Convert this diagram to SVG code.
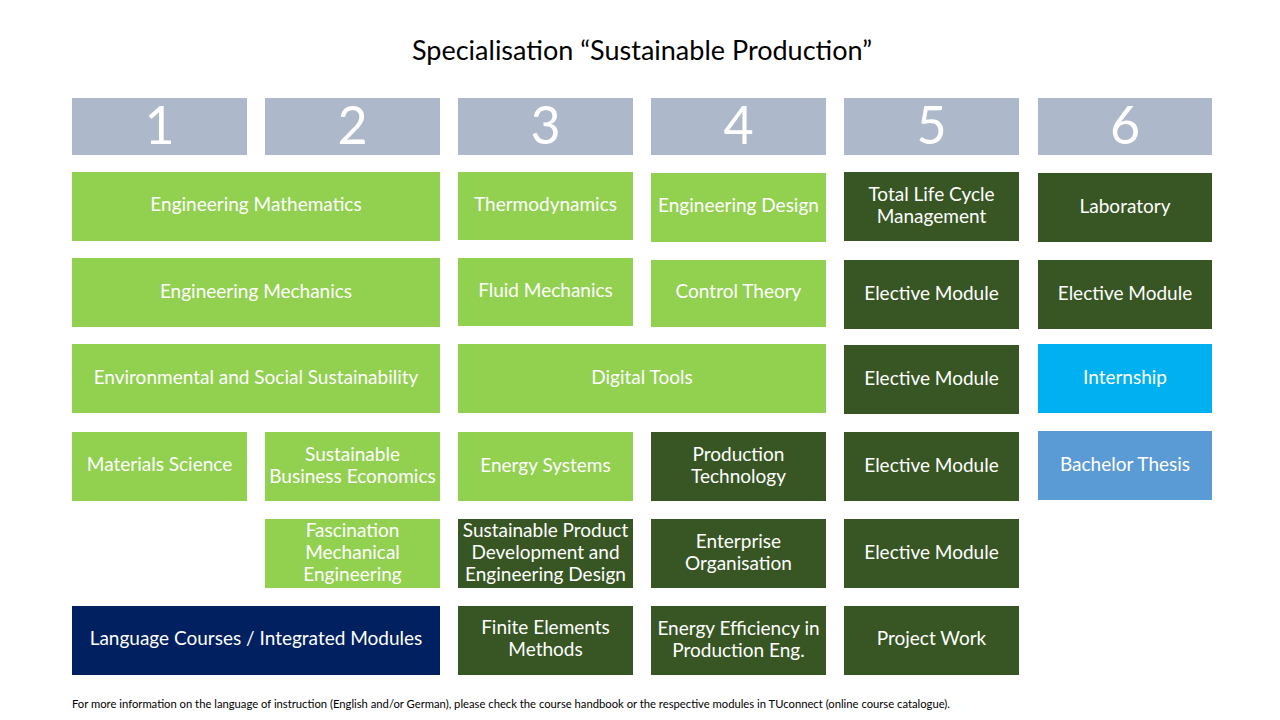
<svg xmlns="http://www.w3.org/2000/svg" width="1280" height="720" viewBox="0 0 1280 720">
<style>
text{font-family:Lato,"Liberation Sans",sans-serif;fill:#fff;text-anchor:middle}
.t{font-size:19px}
.h{font-size:52px}
.hd{fill:#ADB9CA}.lg{fill:#92D050}.dg{fill:#375623}.nv{fill:#002060}.cy{fill:#00B0F0}.bl{fill:#5B9BD5}
.title{font-size:27px;fill:#000}
.foot{font-size:11px;fill:#000;text-anchor:start}
</style>
<rect width="1280" height="720" fill="#fff"/>
<text class="title" x="642" y="60">Specialisation “Sustainable Production”</text>
<g id="headers">
<g id="h1"><rect class="hd" x="72" y="98" width="175" height="57"/><text class="h" x="159.5" y="144">1</text></g>
<g id="h2"><rect class="hd" x="265" y="98" width="175" height="57"/><text class="h" x="352.5" y="144">2</text></g>
<g id="h3"><rect class="hd" x="458" y="98" width="175" height="57"/><text class="h" x="545.5" y="144">3</text></g>
<g id="h4"><rect class="hd" x="651" y="98" width="175" height="57"/><text class="h" x="738.5" y="144">4</text></g>
<g id="h5"><rect class="hd" x="844" y="98" width="175" height="57"/><text class="h" x="931.5" y="144">5</text></g>
<g id="h6"><rect class="hd" x="1038" y="98" width="174" height="57"/><text class="h" x="1125" y="144">6</text></g>
</g>
<g id="connectors"/>
<g id="n-engmath"><rect class="lg" x="72" y="172" width="368" height="69"/><text class="t" x="256" y="211">Engineering Mathematics</text></g>
<g id="n-thermo"><rect class="lg" x="458" y="172" width="175" height="68"/><text class="t" x="545.5" y="211">Thermodynamics</text></g>
<g id="n-engdesign"><rect class="lg" x="651" y="173" width="175" height="69"/><text class="t" x="738.5" y="212">Engineering Design</text></g>
<g id="n-tlcm"><rect class="dg" x="844" y="172" width="175" height="69"/><text class="t" x="931.5" y="201">Total Life Cycle</text><text class="t" x="931.5" y="223">Management</text></g>
<g id="n-lab"><rect class="dg" x="1038" y="173" width="174" height="69"/><text class="t" x="1125" y="213">Laboratory</text></g>

<g id="n-engmech"><rect class="lg" x="72" y="258" width="368" height="69"/><text class="t" x="256" y="298">Engineering Mechanics</text></g>
<g id="n-fluid"><rect class="lg" x="458" y="258" width="175" height="68"/><text class="t" x="545.5" y="297">Fluid Mechanics</text></g>
<g id="n-control"><rect class="lg" x="651" y="260" width="175" height="67"/><text class="t" x="738.5" y="298">Control Theory</text></g>
<g id="n-el5a"><rect class="dg" x="844" y="260" width="175" height="69"/><text class="t" x="931.5" y="300">Elective Module</text></g>
<g id="n-el6"><rect class="dg" x="1038" y="260" width="174" height="69"/><text class="t" x="1125" y="300">Elective Module</text></g>

<g id="n-env"><rect class="lg" x="72" y="344" width="368" height="69"/><text class="t" x="256" y="384">Environmental and Social Sustainability</text></g>
<g id="n-digital"><rect class="lg" x="458" y="344" width="368" height="69"/><text class="t" x="642" y="384">Digital Tools</text></g>
<g id="n-el5b"><rect class="dg" x="844" y="345" width="175" height="69"/><text class="t" x="931.5" y="385">Elective Module</text></g>
<g id="n-intern"><rect class="cy" x="1038" y="344" width="174" height="69"/><text class="t" x="1125" y="384">Internship</text></g>

<g id="n-materials"><rect class="lg" x="72" y="432" width="175" height="69"/><text class="t" x="159.5" y="471">Materials Science</text></g>
<g id="n-sbe"><rect class="lg" x="265" y="432" width="175" height="69"/><text class="t" x="352.5" y="461">Sustainable</text><text class="t" x="352.5" y="483">Business Economics</text></g>
<g id="n-energy"><rect class="lg" x="458" y="432" width="175" height="69"/><text class="t" x="545.5" y="472">Energy Systems</text></g>
<g id="n-prodtech"><rect class="dg" x="651" y="432" width="175" height="69"/><text class="t" x="738.5" y="461">Production</text><text class="t" x="738.5" y="483">Technology</text></g>
<g id="n-el5c"><rect class="dg" x="844" y="432" width="175" height="69"/><text class="t" x="931.5" y="472">Elective Module</text></g>
<g id="n-thesis"><rect class="bl" x="1038" y="431" width="174" height="69"/><text class="t" x="1125" y="471">Bachelor Thesis</text></g>

<g id="n-fascination"><rect class="lg" x="265" y="519" width="175" height="69"/><text class="t" x="352.5" y="537">Fascination</text><text class="t" x="352.5" y="559">Mechanical</text><text class="t" x="352.5" y="581">Engineering</text></g>
<g id="n-spd"><rect class="dg" x="458" y="519" width="175" height="69"/><text class="t" x="545.5" y="537">Sustainable Product</text><text class="t" x="545.5" y="559">Development and</text><text class="t" x="545.5" y="581">Engineering Design</text></g>
<g id="n-enterprise"><rect class="dg" x="651" y="519" width="175" height="69"/><text class="t" x="738.5" y="548">Enterprise</text><text class="t" x="738.5" y="570">Organisation</text></g>
<g id="n-el5d"><rect class="dg" x="844" y="519" width="175" height="69"/><text class="t" x="931.5" y="559">Elective Module</text></g>

<g id="n-lang"><rect class="nv" x="72" y="606" width="368" height="69"/><text class="t" x="256" y="645">Language Courses / Integrated Modules</text></g>
<g id="n-fem"><rect class="dg" x="458" y="606" width="175" height="69"/><text class="t" x="545.5" y="634">Finite Elements</text><text class="t" x="545.5" y="656">Methods</text></g>
<g id="n-eff"><rect class="dg" x="651" y="606" width="175" height="69"/><text class="t" x="738.5" y="635">Energy Efficiency in</text><text class="t" x="738.5" y="657">Production Eng.</text></g>
<g id="n-project"><rect class="dg" x="844" y="606" width="175" height="69"/><text class="t" x="931.5" y="645">Project Work</text></g>

<text class="foot" x="72" y="708" textLength="878" lengthAdjust="spacingAndGlyphs">For more information on the language of instruction (English and/or German), please check the course handbook or the respective modules in TUconnect (online course catalogue).</text>
</svg>
